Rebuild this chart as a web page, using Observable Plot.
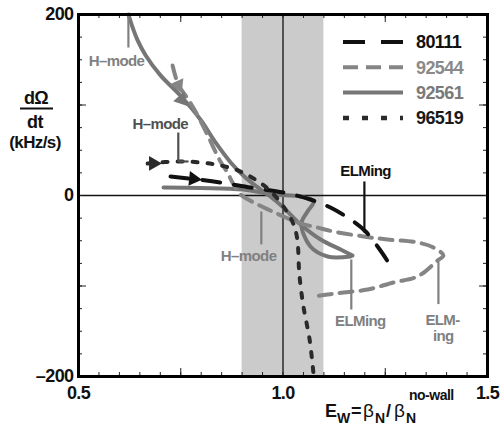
<!DOCTYPE html>
<html><head><meta charset="utf-8">
<script src="https://cdn.jsdelivr.net/npm/d3@7"></script>
<script src="https://cdn.jsdelivr.net/npm/@observablehq/plot@0.6"></script>
<style>
body{margin:0;background:#fff}
svg{display:block}
</style>
</head><body><div id="chart"></div>
<script>
// ---- data (x = E_w, y = dΩ/dt in kHz/s) ----
const seriesNames = ["80111", "92544", "92561", "96519"];
const seriesColors = ["#111111", "#858585", "#767676", "#2a2a2a"];
const seriesTextColors = ["#111111", "#8a8a8a", "#7a7a7a", "#1a1a1a"];
const seriesDash = ["18,14", "13,8", null, "5,10"];
const legendDash = ["22,16", "15,8", null, "6,13"];

const s80111 = [[0.725,21],[0.791,17.7],[0.847,14.4],[0.921,8.8],[1.001,3.3],[1.067,-4.4],[1.116,-13.3],[1.165,-26.5],[1.202,-39.8],[1.233,-57.5],[1.258,-74]];
const s92544 = [[0.730,143.6],[0.744,122.7],[0.767,107],[0.786,92.8],[0.815,67.4],[0.830,53],[0.847,37.6],[0.864,25.4],[0.879,12.2],[0.896,1.1],[0.933,-8.8],[0.969,-16.6],[1.001,-23.2],[1.043,-30.9],[1.084,-35.4],[1.123,-39.8],[1.197,-45.3],[1.255,-48.6],[1.329,-51.9],[1.368,-57.5],[1.392,-66.3],[1.378,-71.8],[1.329,-89.5],[1.270,-96.1],[1.207,-103.9],[1.148,-107.2],[1.109,-109.4],[1.075,-111.6]];
const s92561a = [[0.622,200],[0.634,183.5],[0.644,172],[0.664,155],[0.700,133],[0.749,110.5],[0.798,84],[0.835,58.6],[0.872,36.5],[0.908,19.9],[0.945,6.6],[0.969,-1.1],[1.001,-13.3],[1.043,-32],[1.092,-48.6],[1.141,-59.7],[1.170,-66.3]];
const s92561b = [[0.708,8.8],[0.798,8.3],[0.903,6.6],[0.977,1.1],[1.043,-1.1],[1.075,-6.6],[1.060,-17.7],[1.045,-31],[1.067,-56.4],[1.109,-67.4],[1.165,-67.4]];
const s96519 = [[0.669,35.4],[0.744,37.6],[0.798,36.5],[0.847,33.2],[0.896,26.5],[0.950,12.2],[0.982,-1.1],[1.006,-15.5],[1.026,-32],[1.035,-48.6],[1.040,-87.3],[1.050,-122.7],[1.065,-159],[1.075,-199]];

// direction arrows on the trajectories
const arrowSeries = ["96519", "80111", "92544", "92561"];
const arrowX = [0.683, 0.781, 0.744, 0.752];
const arrowY = [35.4, 18.5, 122, 106];
const arrowAngle = [90, 96, 156, 138];

// annotations
const annText = ["H–mode", "H–mode", "H–mode", "ELMing", "ELMing", "ELM-", "ing"];
const annX = [0.593, 0.700, 0.916, 1.202, 1.189, 1.390, 1.392];
const annY = [148, 78.5, -67.4, 26.5, -139, -138, -156];
const annColor = ["#808080", "#505050", "#808080", "#111111", "#808080", "#808080", "#808080"];
const ptrX1 = [0.622, 0.744, 0.744, 0.947, 1.199, 1.167, 1.380];
const ptrY1 = [200, 69.6, 37.6, -17.7, 15.5, -70.7, -73];
const ptrX2 = [0.622, 0.744, 0.769, 0.947, 1.199, 1.167, 1.380];
const ptrY2 = [163.5, 37.6, 37.6, -54, -40.9, -126, -120];
const ptrColor = ["#808080", "#505050", "#505050", "#808080", "#111111", "#808080", "#808080"];

// axes
const xTickLabels = [0.5, 1.0, 1.5];
const yTickLabels = [200, 0, -200];
const xMinor = d3.range(0.5, 1.5001, 0.05).map(d => +d.toFixed(2));
const xMajor = [0.75, 1.25];
const yMinor = d3.range(-200, 200.1, 25);
const yMajor = [-100, 100];
const band = [{x1: 0.9, x2: 1.1}];

// ---- build tables ----
const rows = [];
const addSeries = (name, seg, pts) => pts.forEach(([x, y]) => rows.push({name, seg, x, y}));
addSeries("80111", "80111", s80111);
addSeries("92544", "92544", s92544);
addSeries("92561", "92561a", s92561a);
addSeries("92561", "92561b", s92561b);
addSeries("96519", "96519", s96519);

const arrows = arrowSeries.map((s, i) => ({name: s, x: arrowX[i], y: arrowY[i], a: arrowAngle[i]}));
const ann = annText.map((t, i) => ({t, x: annX[i], y: annY[i], c: annColor[i]}));
const ptrs = ptrX1.map((x, i) => ({x1: x, y1: ptrY1[i], x2: ptrX2[i], y2: ptrY2[i], c: ptrColor[i]}));

const FONT = '"Liberation Sans", Arial, Helvetica, sans-serif';
const W = 502, H = 426, mL = 78, mR = 15, mT = 14, mB = 50;
const fw = W - mL - mR, fh = H - mT - mB;

const lineMarks = seriesNames.map((n, i) =>
  Plot.line(rows.filter(r => r.name === n), {
    x: "x", y: "y", z: "seg", stroke: seriesColors[i], strokeWidth: 4,
    strokeDasharray: seriesDash[i], curve: "catmull-rom", strokeLinejoin: "round"
  })
);
const order = [2, 1, 0, 3];

const chart = Plot.plot({
  width: W, height: H,
  marginLeft: mL, marginRight: mR, marginTop: mT, marginBottom: mB,
  style: {fontFamily: FONT, background: "white"},
  x: {domain: [0.5, 1.5], axis: null},
  y: {domain: [-200, 200], axis: null},
  marks: [
    Plot.rect(band, {x1: "x1", x2: "x2", y1: -200, y2: 200, fill: "#cbcbcb"}),
    Plot.ruleX([1], {stroke: "#111", strokeWidth: 1.3}),
    Plot.ruleY([0], {stroke: "#111", strokeWidth: 1.3}),
    ...order.map(i => lineMarks[i]),
    Plot.dot(arrows, {x: "x", y: "y", symbol: "triangle", r: 5.5, rotate: "a",
      fill: d => seriesColors[seriesNames.indexOf(d.name)], stroke: "none"}),
    Plot.link(ptrs, {x1: "x1", y1: "y1", x2: "x2", y2: "y2", stroke: "c", strokeWidth: 2.2}),
    Plot.text(ann, {x: "x", y: "y", text: "t", fill: "c", fontSize: 15, fontWeight: "bold"}),
    // ticks (inside, all four sides)
    Plot.tickX(xMinor, {x: d => d, insetTop: fh - 4, stroke: "#222"}),
    Plot.tickX(xMinor, {x: d => d, insetBottom: fh - 4, stroke: "#222"}),
    Plot.tickX(xMajor, {x: d => d, insetTop: fh - 8, stroke: "#222"}),
    Plot.tickX(xMajor, {x: d => d, insetBottom: fh - 8, stroke: "#222"}),
    Plot.tickY(yMinor, {y: d => d, insetRight: fw - 4, stroke: "#222"}),
    Plot.tickY(yMinor, {y: d => d, insetLeft: fw - 4, stroke: "#222"}),
    Plot.tickY(yMajor, {y: d => d, insetRight: fw - 8, stroke: "#222"}),
    Plot.tickY(yMajor, {y: d => d, insetLeft: fw - 8, stroke: "#222"}),
    Plot.frame({stroke: "#000", strokeWidth: 3}),
    // tick labels
    Plot.text(xTickLabels, {x: d => d, frameAnchor: "bottom", dy: 22, text: d => d.toFixed(1),
      fontSize: 18, fontWeight: "bold", fill: "#111"}),
    Plot.text(yTickLabels, {y: d => d, frameAnchor: "left", dx: -5, textAnchor: "end",
      text: d => d < 0 ? "–" + Math.abs(d) : String(d), fontSize: 18, fontWeight: "bold", fill: "#111"})
  ]
});

const svg = d3.select(chart);
svg.selectAll("text").style("letter-spacing", "-0.6px");

// legend
const lg = svg.append("g").attr("font-family", FONT).attr("text-anchor", "start");
seriesNames.forEach((n, i) => {
  const y = 42 + i * 25.3;
  lg.append("line").attr("x1", 343).attr("x2", 403).attr("y1", y).attr("y2", y)
    .attr("stroke", seriesColors[i]).attr("stroke-width", i === 3 ? 4.5 : 4)
    .attr("stroke-dasharray", legendDash[i]);
  lg.append("text").attr("x", 416).attr("y", y).attr("dy", "0.36em")
    .attr("text-anchor", "start")
    .attr("font-size", 18).attr("font-weight", "bold").attr("fill", seriesTextColors[i])
    .style("letter-spacing", "-0.6px").text(n);
});

// y-axis title: dΩ/dt (kHz/s)
const yt = svg.append("g").attr("font-family", FONT).attr("font-weight", "bold")
  .attr("fill", "#111").attr("text-anchor", "middle").style("letter-spacing", "-0.6px");
yt.append("text").attr("x", 36).attr("y", 104).attr("font-size", 18).text("dΩ");
yt.append("line").attr("x1", 20).attr("x2", 53).attr("y1", 108.5).attr("y2", 108.5)
  .attr("stroke", "#111").attr("stroke-width", 2);
yt.append("text").attr("x", 35).attr("y", 128).attr("font-size", 18).text("dt");
yt.append("text").attr("x", 35).attr("y", 148).attr("font-size", 17).text("(kHz/s)");

// x-axis title: E_w = β_N / β_N^{no-wall}
const xt = svg.append("g").attr("font-family", FONT).attr("font-weight", "bold")
  .attr("fill", "#111").attr("text-anchor", "start");
const piece = (x, y, s, t, w) => xt.append("text").attr("x", x).attr("y", y)
  .attr("text-anchor", "start")
  .attr("font-size", s).attr("font-weight", w || "bold").text(t);
piece(325, 417, 18, "E");
piece(337, 423, 14, "W");
piece(351, 417, 18, "=");
piece(363, 417, 19, "β", "normal");
piece(375, 423, 14, "N");
piece(386, 417, 18, "/");
piece(394, 417, 19, "β", "normal");
piece(406, 423, 14, "N");
piece(409, 400, 14, "no-wall").style("letter-spacing", "-0.5px");

document.getElementById("chart").appendChild(chart);
</script></body></html>
